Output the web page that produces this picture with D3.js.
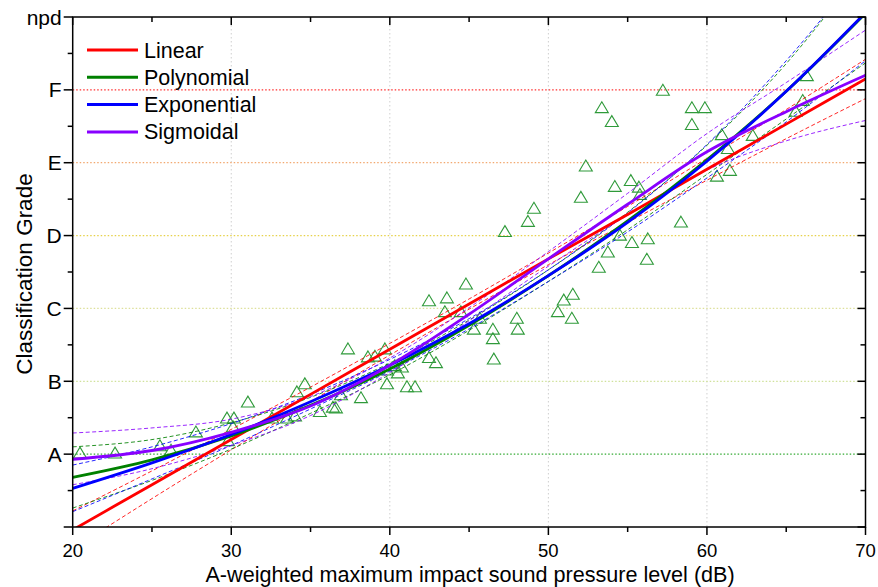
<!DOCTYPE html>
<html><head><meta charset="utf-8">
<script src="https://cdn.jsdelivr.net/npm/d3@7"></script>
<style>
html,body{margin:0;padding:0;background:#fff;}
text{font-family:Arial,"Liberation Sans",sans-serif;fill:#000;}
</style></head>
<body><svg id="chart" width="878" height="587"></svg>
<script>
// ---- data ----
const gradeLabels = ["", "A", "B", "C", "D", "E", "F", "npd"];
const xTicks = [20, 30, 40, 50, 60, 70];

const obsX = [20.46,22.67,25.50,26.20,27.77,29.79,29.73,30.17,30.11,31.05,32.57,33.51,34.02,34.14,34.64,35.59,36.41,36.60,36.92,38.18,
  37.36,38.62,39.06,39.69,39.82,40.32,40.76,40.51,39.82,41.08,41.59,42.47,42.91,42.47,43.60,44.80,43.47,44.48,45.68,45.30,
  46.50,46.50,46.56,48.01,48.07,50.60,50.97,51.54,51.48,47.26,48.71,49.09,52.05,52.36,53.18,53.75,54.19,54.51,55.20,55.27,
  55.71,55.77,56.21,56.27,57.22,53.37,54.00,59.05,59.87,59.05,58.36,60.63,61.45,60.94,61.32,62.89,65.60,66.04,66.30];
const obsY = [1.01,1.01,1.11,1.05,1.30,1.18,1.49,1.49,1.37,1.71,1.49,1.49,1.52,1.85,1.96,1.58,1.64,1.63,1.81,1.77,
  2.44,2.33,2.34,2.44,2.15,2.21,2.19,2.11,1.96,1.92,1.92,2.32,2.25,3.10,3.14,3.33,2.95,2.95,2.86,2.71,
  2.71,2.58,2.30,2.86,2.71,2.95,3.11,3.19,2.86,4.05,4.19,4.37,4.52,4.95,3.56,3.77,4.67,4.00,4.75,3.90,
  4.66,4.56,3.67,3.95,5.99,5.75,5.56,5.75,5.75,5.52,4.18,4.81,4.89,5.38,5.19,5.37,5.70,5.85,6.19];

const fitX = [20,25,30,35,40,45,50,55,60,65,70];
const linearFit   = [-0.04,0.58,1.20,1.82,2.44,3.06,3.68,4.29,4.91,5.53,6.15];
const linearLow   = [-0.30,0.39,1.06,1.72,2.36,2.99,3.60,4.18,4.76,5.33,5.88];
const linearUp    = [0.22,0.77,1.34,1.92,2.52,3.13,3.76,4.40,5.06,5.73,6.42];
const polyFit     = [0.68,0.92,1.25,1.67,2.17,2.77,3.45,4.20,5.04,5.98,7.05];
const polyLow     = [0.26,0.64,1.07,1.56,2.09,2.70,3.37,4.08,4.84,5.60,6.37];
const polyUp      = [1.10,1.20,1.43,1.78,2.25,2.84,3.53,4.32,5.24,6.36,7.73];
const expFit      = [0.53,0.88,1.27,1.72,2.22,2.79,3.45,4.18,5.02,5.98,7.06];
const expLow      = [0.21,0.66,1.12,1.62,2.14,2.72,3.37,4.05,4.79,5.56,6.40];
const expUp       = [0.85,1.10,1.42,1.82,2.30,2.86,3.53,4.31,5.25,6.40,7.72];
const sigFit      = [0.93,1.05,1.30,1.66,2.22,2.92,3.68,4.43,5.15,5.70,6.20];
const sigLow      = [0.58,0.80,1.12,1.53,2.12,2.83,3.58,4.28,4.90,5.30,5.58];
const sigUp       = [1.29,1.36,1.48,1.79,2.32,3.01,3.78,4.58,5.40,6.10,6.82];

const seriesNames  = ["Linear","Polynomial","Exponential","Sigmoidal"];
const seriesColors = ["#ff0000","#008000","#0000ff","#8800ff"];
const gradeLineColors = ["#33aa33","#cfe29a","#dde09a","#e6d24a","#f2a870","#ff3030"];

// ---- layout ----
const svg = d3.select("#chart");
const L = 72.7, R = 865.5, T = 17, B = 527;
const x = d3.scaleLinear().domain([20,70]).range([L,R]);
const y = d3.scaleLinear().domain([0,7]).range([B,T]);

svg.append("clipPath").attr("id","clip").append("rect")
  .attr("x",L).attr("y",T).attr("width",R-L).attr("height",B-T);

// grid
const grid = svg.append("g");
[30,40,50,60].forEach(v=>{
  grid.append("line").attr("x1",x(v)).attr("x2",x(v)).attr("y1",T).attr("y2",B)
    .attr("stroke","#cfcfcf").attr("stroke-width",1).attr("stroke-dasharray","1.5,2.5");
});
[1,2,3,4,5,6].forEach((g,i)=>{
  grid.append("line").attr("x1",L).attr("x2",R).attr("y1",y(g)).attr("y2",y(g))
    .attr("stroke",gradeLineColors[i]).attr("stroke-width",1.2).attr("stroke-dasharray","1.5,2");
});

// points
const tri = "M0,-6.3L6.5,4.6L-6.5,4.6Z";
svg.append("g").selectAll("path").data(obsX.map((d,i)=>[d,obsY[i]])).join("path")
  .attr("d",tri).attr("transform",d=>`translate(${x(d[0])},${y(d[1])})`)
  .attr("fill","none").attr("stroke","#2f9a3a").attr("stroke-width",1.1);

// fits
const line = d3.line().x(d=>x(d[0])).y(d=>y(d[1])).curve(d3.curveMonotoneX);
const pairs = arr => fitX.map((v,i)=>[v,arr[i]]);
const bands = [[linearLow,linearUp],[polyLow,polyUp],[expLow,expUp],[sigLow,sigUp]];
const fits = [linearFit,polyFit,expFit,sigFit];
const gl = svg.append("g").attr("clip-path","url(#clip)");
bands.forEach((b,i)=>{
  b.forEach(arr=>{
    gl.append("path").attr("d",line(pairs(arr))).attr("fill","none")
      .attr("stroke",seriesColors[i]).attr("stroke-width",1).attr("stroke-dasharray","4,2.5").attr("opacity",0.85);
  });
});
fits.forEach((f,i)=>{
  gl.append("path").attr("d",line(pairs(f))).attr("fill","none")
    .attr("stroke",seriesColors[i]).attr("stroke-width",2.8);
});

// axes
const ax = svg.append("g");
ax.append("rect").attr("x",L).attr("y",T).attr("width",R-L).attr("height",B-T)
  .attr("fill","none").attr("stroke","#000").attr("stroke-width",1.5);

const xMinor = d3.range(25,70,10);
const yMinor = d3.range(0.5,7,1);
// bottom / top
xTicks.forEach(v=>{
  ax.append("line").attr("x1",x(v)).attr("x2",x(v)).attr("y1",B).attr("y2",B+8).attr("stroke","#000").attr("stroke-width",1.5);
  ax.append("line").attr("x1",x(v)).attr("x2",x(v)).attr("y1",T).attr("y2",T+8).attr("stroke","#000").attr("stroke-width",1.5);
  ax.append("text").attr("x",x(v)).attr("y",557).attr("text-anchor","middle").attr("font-size",18.5).text(v);
});
xMinor.forEach(v=>{
  ax.append("line").attr("x1",x(v)).attr("x2",x(v)).attr("y1",B).attr("y2",B+5).attr("stroke","#000").attr("stroke-width",1.5);
  ax.append("line").attr("x1",x(v)).attr("x2",x(v)).attr("y1",T).attr("y2",T+5).attr("stroke","#000").attr("stroke-width",1.5);
});
// left / right
d3.range(0,8).forEach(g=>{
  ax.append("line").attr("x1",L-9).attr("x2",L).attr("y1",y(g)).attr("y2",y(g)).attr("stroke","#000").attr("stroke-width",1.5);
  ax.append("line").attr("x1",R-8).attr("x2",R).attr("y1",y(g)).attr("y2",y(g)).attr("stroke","#000").attr("stroke-width",1.5);
  ax.append("text").attr("x",L-11).attr("y",y(g)+7.5).attr("text-anchor","end").attr("font-size",21).text(gradeLabels[g]);
});
yMinor.forEach(g=>{
  ax.append("line").attr("x1",L-5).attr("x2",L).attr("y1",y(g)).attr("y2",y(g)).attr("stroke","#000").attr("stroke-width",1.5);
  ax.append("line").attr("x1",R-5).attr("x2",R).attr("y1",y(g)).attr("y2",y(g)).attr("stroke","#000").attr("stroke-width",1.5);
});

// titles
svg.append("text").attr("x",(L+R)/2 + 1).attr("y",582).attr("text-anchor","middle").attr("font-size",21.6)
  .text("A-weighted maximum impact sound pressure level (dB)");
svg.append("text").attr("transform",`translate(32,${(T+B)/2+2}) rotate(-90)`).attr("text-anchor","middle").attr("font-size",22.5)
  .text("Classification Grade");

// legend
const lg = svg.append("g");
seriesNames.forEach((n,i)=>{
  const yy = 50 + i*27.3;
  lg.append("line").attr("x1",87).attr("x2",138).attr("y1",yy).attr("y2",yy)
    .attr("stroke",seriesColors[i]).attr("stroke-width",3);
  lg.append("text").attr("x",144).attr("y",yy+7.5).attr("font-size",21.5).text(n);
});
</script></body></html>
